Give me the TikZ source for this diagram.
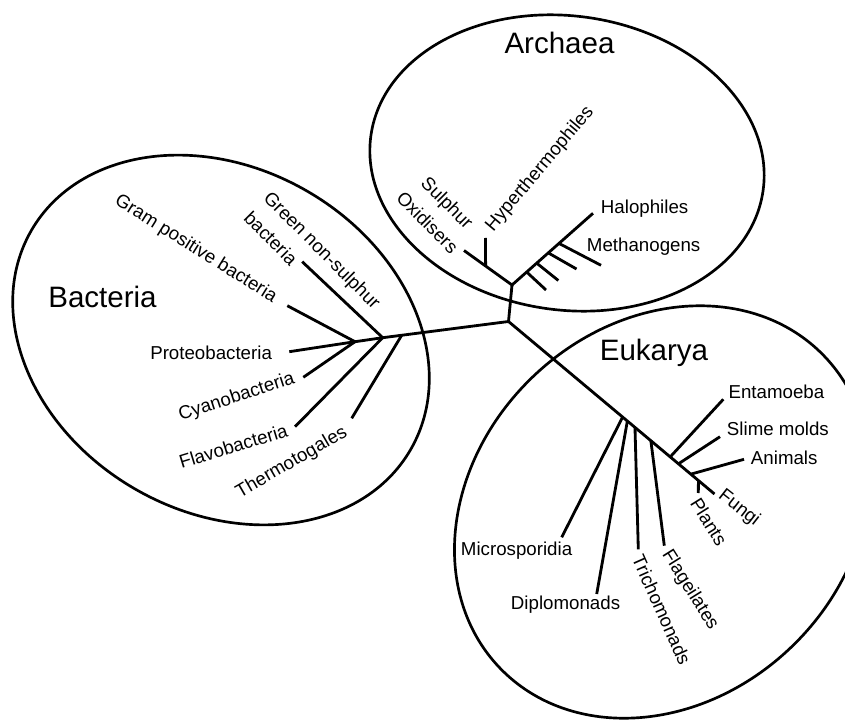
\documentclass[tikz,border=0pt]{standalone}
\usepackage{fontspec}
\setmainfont{Liberation Sans}
\usetikzlibrary{calc}
\definecolor{tolInk}{HTML}{000000}
\tikzset{
  tolbranch/.style={draw=tolInk, line width=2pt},
  tolring/.style={draw=tolInk, line width=1.9pt},
  tolleaf/.style={inner sep=0pt, text=tolInk, font=\fontsize{13.3}{20}\selectfont},
  tolrealm/.style={inner sep=0pt, anchor=base, text=tolInk, font=\fontsize{21}{25}\selectfont}
}
\begin{document}
\begin{tikzpicture}[x=0.025cm, y=-0.025cm]
  \useasboundingbox (0,0) rectangle (845,720);
  \draw[tolring, rotate around={-8:(567,163)}] (567,163) ellipse [x radius=198, y radius=147];
  \draw[tolring, rotate around={-30:(221,340)}] (221,340) ellipse [x radius=219, y radius=172];
  \draw[tolring, rotate around={44:(662,512)}] (662,512) ellipse [x radius=225, y radius=187];

  \coordinate (hub) at (508.5,321.5);
  \coordinate (arch) at (512,285);
  \coordinate (bgreen) at (382.7,337.7);
  \coordinate (bproteo) at (355,341.7);
  \coordinate (eufungi) at (714.5,494);
  \draw[tolbranch] (bproteo) -- (bgreen) -- (hub) -- (arch);
  \draw[tolbranch] (hub) -- (eufungi);

  % Archaea
  \coordinate (aoxi) at (464,250.5);
  \coordinate (ahalo) at (593,213.3);
  \coordinate (ahyper) at (485.5,238);
  \draw[tolbranch] (aoxi) -- (arch) -- (ahalo);
  \draw[tolbranch] ($(arch)!0.55!(aoxi)$) -- (ahyper);
  \foreach \i/\t/\ex/\ey in {1/0.181/546/290, 2/0.305/558.3/280.5, 3/0.448/576.5/269, 4/0.58/601/265.3} {
    \coordinate (ameth\i) at (\ex,\ey);
    \draw[tolbranch] ($(arch)!\t!(ahalo)$) -- (ameth\i);
  }

  % Bacteria
  \coordinate (bthermo) at ($(hub)!0.849!(bgreen)$);
  \coordinate (bgreenend) at (302.2,261.7);
  \coordinate (bflavoend) at (295,426.7);
  \coordinate (bthermoend) at (351.7,418.3);
  \coordinate (bgramend) at (287.3,305.7);
  \coordinate (bproteoend) at (289.3,351.7);
  \coordinate (bcyanoend) at (303.3,377.3);
  \draw[tolbranch] (bgreen) -- (bgreenend);
  \draw[tolbranch] (bgreen) -- (bflavoend);
  \draw[tolbranch] (bthermo) -- (bthermoend);
  \foreach \leaf in {bgramend, bproteoend, bcyanoend}
    \draw[tolbranch] (bproteo) -- (\leaf);

  % Eukarya
  \foreach \name/\t/\ex/\ey in {micro/0.554/561.7/537.3, diplo/0.577/596.7/594,
      tricho/0.614/638.3/549.3, flag/0.691/664.3/545.7, ent/0.785/723.3/399.3,
      slime/0.825/720/436.7, anim/0.885/744/459.3, plants/0.922/698.3/493} {
    \coordinate (e\name) at (\ex,\ey);
    \draw[tolbranch] ($(hub)!\t!(eufungi)$) -- (e\name);
  }

  \node[tolrealm] (archaea) at (559.5,53.3) {Archaea};
  \node[tolrealm] (bacteria) at (102.5,307.7) {Bacteria};
  \node[tolrealm] (eukarya) at (654,360) {Eukarya};

  \node[tolleaf, rotate=50] (lhyper) at (540,169) {Hyperthermophiles};
  \node[tolleaf, rotate=-45, align=center] (lsulph) at (437.5,212.5) {Sulphur\\Oxidisers};
  \node[tolleaf, anchor=base west] (lhalo) at (600.7,213.3) {Halophiles};
  \node[tolleaf, anchor=base west] (lmeth) at (586.7,251.7) {Methanogens};

  \node[tolleaf, rotate=-32] (lgram) at (195.8,249.2) {Gram positive bacteria};
  \node[tolleaf, rotate=-45, align=left] (lgreen) at (312.6,259.9) {Green non-sulphur\\bacteria};
  \node[tolleaf, anchor=base west] (lproteo) at (150,359.5) {Proteobacteria};
  \node[tolleaf, rotate=18] (lcyano) at (236.7,397.3) {Cyanobacteria};
  \node[tolleaf, rotate=17] (lflavo) at (233.3,446) {Flavobacteria};
  \node[tolleaf, rotate=30] (lthermo) at (291.7,462.7) {Thermotogales};

  \node[tolleaf, anchor=base west] (lent) at (728.3,398.5) {Entamoeba};
  \node[tolleaf, anchor=base west] (lslime) at (726.7,435.7) {Slime molds};
  \node[tolleaf, anchor=base west] (lanim) at (750.7,464) {Animals};
  \node[tolleaf, rotate=-38] (lfungi) at (739,508.3) {Fungi};
  \node[tolleaf, rotate=-58] (lplants) at (709,521.7) {Plants};
  \node[tolleaf, anchor=base west] (lmicro) at (460.7,555) {Microsporidia};
  \node[tolleaf, anchor=base west] (ldiplo) at (510.7,609.3) {Diplomonads};
  \node[tolleaf, rotate=-66] (ltricho) at (661.7,610) {Trichomonads};
  \node[tolleaf, rotate=-58] (lflag) at (690,590) {Flageilates};
\end{tikzpicture}
\end{document}
